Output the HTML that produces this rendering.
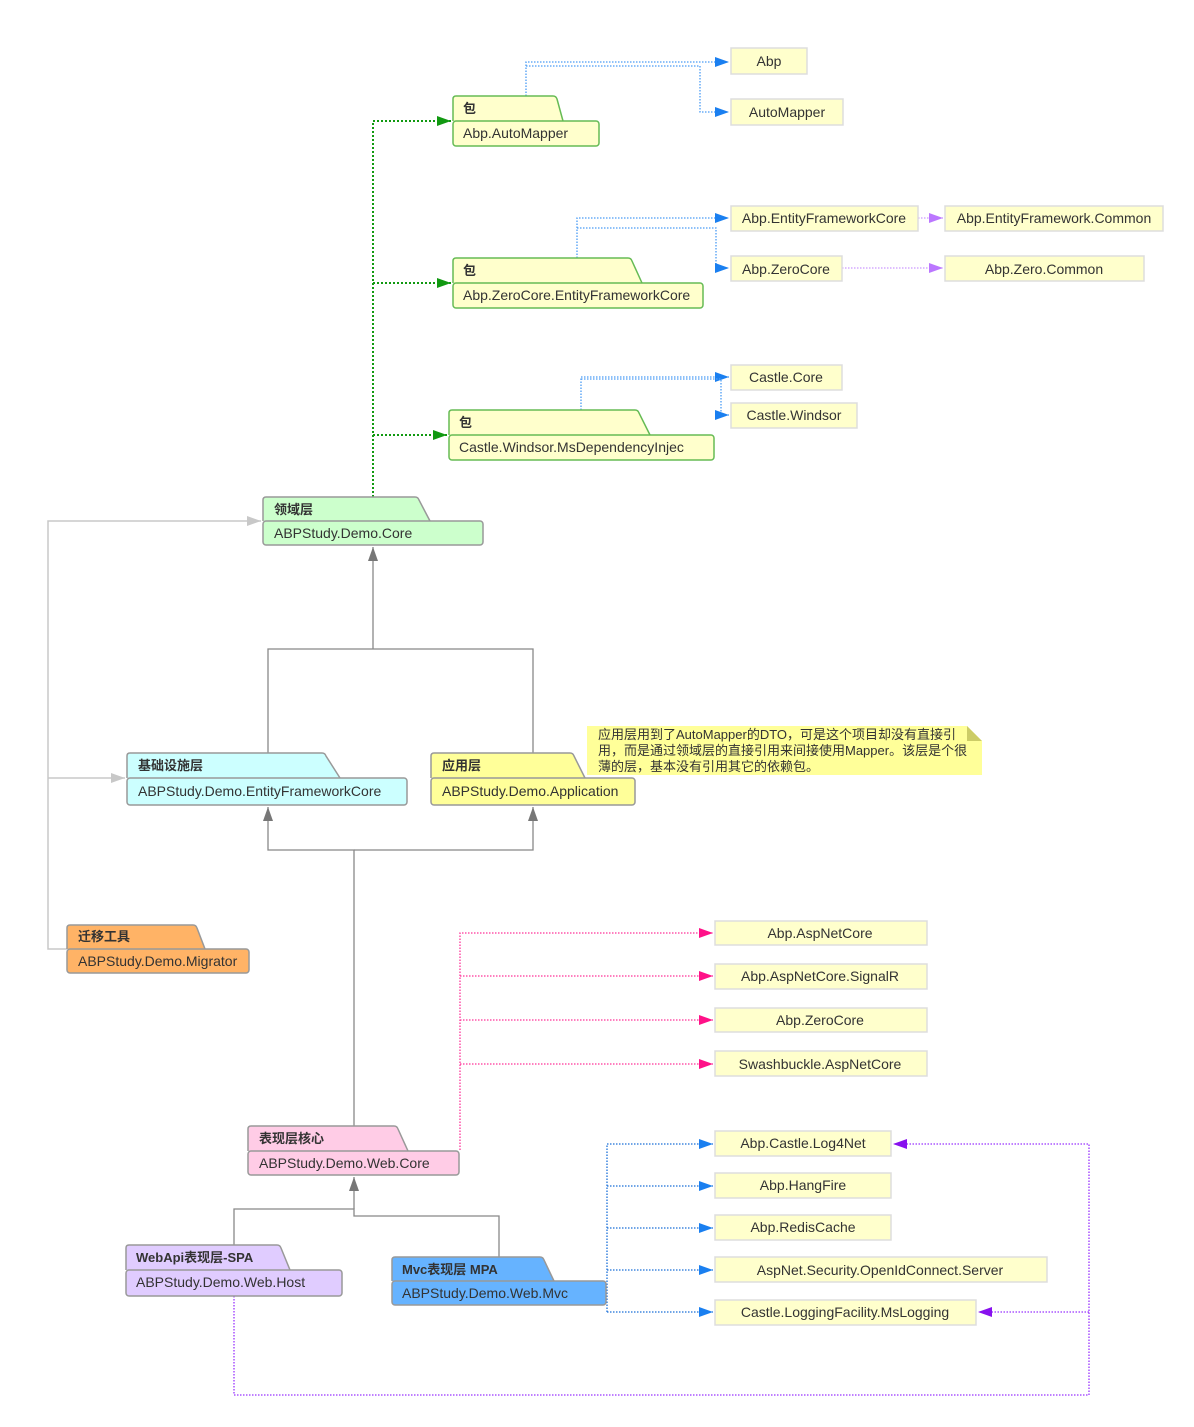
<!DOCTYPE html>
<html><head><meta charset="utf-8"><style>
html,body{margin:0;padding:0;background:#fff;}
svg{display:block;}
text{font-family:"Liberation Sans","Noto Sans CJK SC",sans-serif;font-size:14px;fill:#333;}
.b{font-weight:bold;font-size:13px;}
.n{font-size:13px;}
</style></head><body>
<svg width="1194" height="1427" viewBox="0 0 1194 1427" xmlns="http://www.w3.org/2000/svg">
<defs>
<marker id="ag" markerWidth="14" markerHeight="10" refX="14" refY="5" orient="auto" markerUnits="userSpaceOnUse"><path d="M0,0 L14,5 L0,10 z" fill="#119911"/></marker>
<marker id="ab" markerWidth="14" markerHeight="10" refX="14" refY="5" orient="auto" markerUnits="userSpaceOnUse"><path d="M0,0 L14,5 L0,10 z" fill="#1a7ff0"/></marker>
<marker id="ap" markerWidth="14" markerHeight="10" refX="14" refY="5" orient="auto" markerUnits="userSpaceOnUse"><path d="M0,0 L14,5 L0,10 z" fill="#bb77ff"/></marker>
<marker id="ak" markerWidth="14" markerHeight="10" refX="14" refY="5" orient="auto" markerUnits="userSpaceOnUse"><path d="M0,0 L14,5 L0,10 z" fill="#ff1188"/></marker>
<marker id="av" markerWidth="14" markerHeight="10" refX="14" refY="5" orient="auto" markerUnits="userSpaceOnUse"><path d="M0,0 L14,5 L0,10 z" fill="#8811ee"/></marker>
<marker id="ad" markerWidth="14" markerHeight="10" refX="14" refY="5" orient="auto" markerUnits="userSpaceOnUse"><path d="M0,0 L14,5 L0,10 z" fill="#777"/></marker>
<marker id="al" markerWidth="14" markerHeight="10" refX="14" refY="5" orient="auto" markerUnits="userSpaceOnUse"><path d="M0,0 L14,5 L0,10 z" fill="#c8c8c8"/></marker>
</defs>

<g fill="none">
<path d="M373,497 V121 H451" stroke="#119911" stroke-width="2" stroke-dasharray="2,2" marker-end="url(#ag)"/>
<path d="M373,283 H451" stroke="#119911" stroke-width="2" stroke-dasharray="2,2" marker-end="url(#ag)"/>
<path d="M373,435 H447" stroke="#119911" stroke-width="2" stroke-dasharray="2,2" marker-end="url(#ag)"/>
<g stroke="#4a9cf5" stroke-width="1.3" stroke-dasharray="1.5,1.5">
<path d="M526,96 V62 H729" marker-end="url(#ab)"/>
<path d="M526,66 H700 V112 H729" marker-end="url(#ab)"/>
<path d="M577,258 V218 H729" marker-end="url(#ab)"/>
<path d="M577,228 H716 V268 H729" marker-end="url(#ab)"/>
<path d="M581,410 V377 H729" marker-end="url(#ab)"/>
<path d="M581,379 H721 V415 H729" marker-end="url(#ab)"/>
</g>
<g stroke="#cc99ff" stroke-width="1.3" stroke-dasharray="1.5,1.5">
<path d="M918,218 H943" marker-end="url(#ap)"/>
<path d="M842,268 H943" marker-end="url(#ap)"/>
</g>
<g stroke="#888" stroke-width="1.3">
<path d="M373,649 V547" marker-end="url(#ad)"/>
<path d="M268,753 V649 H533 V753"/>
<path d="M354,1126 V850 H268 V807" marker-end="url(#ad)"/>
<path d="M354,850 H533 V807" marker-end="url(#ad)"/>
<path d="M354,1209 V1177" marker-end="url(#ad)"/>
<path d="M234,1245 V1209 H354 V1216 H499 V1257"/>
</g>
<g stroke="#c8c8c8" stroke-width="1.5">
<path d="M67,949 H48 V521 H261" marker-end="url(#al)"/>
<path d="M48,778 H125" marker-end="url(#al)"/>
</g>
<g stroke="#ff3399" stroke-width="1.3" stroke-dasharray="1.5,1.5">
<path d="M460,1150 V933 H713" marker-end="url(#ak)"/>
<path d="M460,976 H713" marker-end="url(#ak)"/>
<path d="M460,1020 H713" marker-end="url(#ak)"/>
<path d="M460,1064 H713" marker-end="url(#ak)"/>
</g>
<g stroke="#1a6fd8" stroke-width="1.3" stroke-dasharray="1.5,1.5">
<path d="M607,1312 V1144 H713" marker-end="url(#ab)"/>
<path d="M607,1186 H713" marker-end="url(#ab)"/>
<path d="M607,1228 H713" marker-end="url(#ab)"/>
<path d="M607,1270 H713" marker-end="url(#ab)"/>
<path d="M607,1312 H713" marker-end="url(#ab)"/>
</g>
<g stroke="#9933ff" stroke-width="1.3" stroke-dasharray="1.5,1.5">
<path d="M234,1296 V1395 H1089 V1144 H893" marker-end="url(#av)"/>
<path d="M1089,1312 H978" marker-end="url(#av)"/>
</g>
</g>

<g fill="#ffffcc" stroke="#dddddd" stroke-width="1.5">
<rect x="731" y="48" width="76" height="26"/>
<rect x="731" y="99" width="112" height="26"/>
<rect x="731" y="206" width="187" height="25"/>
<rect x="945" y="206" width="218" height="25"/>
<rect x="731" y="256" width="111" height="25"/>
<rect x="945" y="256" width="199" height="25"/>
<rect x="731" y="365" width="111" height="25"/>
<rect x="731" y="403" width="126" height="25"/>
<rect x="715" y="921" width="212" height="24"/>
<rect x="715" y="964" width="212" height="25"/>
<rect x="715" y="1008" width="212" height="24"/>
<rect x="715" y="1051" width="212" height="25"/>
<rect x="715" y="1131" width="176" height="25"/>
<rect x="715" y="1173" width="176" height="25"/>
<rect x="715" y="1215" width="176" height="25"/>
<rect x="715" y="1257" width="332" height="25"/>
<rect x="715" y="1300" width="261" height="25"/>
</g>
<g text-anchor="middle">
<text x="769" y="66">Abp</text>
<text x="787" y="117">AutoMapper</text>
<text x="824" y="223">Abp.EntityFrameworkCore</text>
<text x="1054" y="223">Abp.EntityFramework.Common</text>
<text x="786" y="274">Abp.ZeroCore</text>
<text x="1044" y="274">Abp.Zero.Common</text>
<text x="786" y="382">Castle.Core</text>
<text x="794" y="420">Castle.Windsor</text>
<text x="820" y="938">Abp.AspNetCore</text>
<text x="820" y="981">Abp.AspNetCore.SignalR</text>
<text x="820" y="1025">Abp.ZeroCore</text>
<text x="820" y="1069">Swashbuckle.AspNetCore</text>
<text x="803" y="1148">Abp.Castle.Log4Net</text>
<text x="803" y="1190">Abp.HangFire</text>
<text x="803" y="1232">Abp.RedisCache</text>
<text x="880" y="1275">AspNet.Security.OpenIdConnect.Server</text>
<text x="845" y="1317">Castle.LoggingFacility.MsLogging</text>
</g>

<g stroke-width="1.5">
<g fill="#ffffcc" stroke="#66bb55">
<path d="M453,121 V99 Q453,96 456,96 H553 Q556,96 557,99 L563,121"/><rect x="453" y="121" width="146" height="25" rx="3"/>
<path d="M453,283 V261 Q453,258 456,258 H628 Q631,258 632,261 L642,283"/><rect x="453" y="283" width="250" height="25" rx="3"/>
<path d="M449,435 V413 Q449,410 452,410 H635 Q638,410 639,413 L650,435"/><rect x="449" y="435" width="265" height="25" rx="3"/>
</g>
<g stroke="#999">
<path fill="#ccffcc" d="M263,521 V500 Q263,497 266,497 H415 Q418,497 419,500 L430,521"/><rect fill="#ccffcc" x="263" y="521" width="220" height="24" rx="3"/>
<path fill="#ccffff" d="M127,778 V756 Q127,753 130,753 H322 Q325,753 326,756 L340,778"/><rect fill="#ccffff" x="127" y="778" width="280" height="27" rx="3"/>
<path fill="#ffff99" d="M431,778 V756 Q431,753 434,753 H570 Q573,753 574,756 L585,778"/><rect fill="#ffff99" x="431" y="778" width="204" height="27" rx="3"/>
<path fill="#ffb366" d="M67,949 V928 Q67,925 70,925 H193 Q196,925 197,928 L205,949"/><rect fill="#ffb366" x="67" y="949" width="182" height="24" rx="3"/>
<path fill="#ffcce6" d="M248,1151 V1129 Q248,1126 251,1126 H394 Q397,1126 398,1129 L408,1151"/><rect fill="#ffcce6" x="248" y="1151" width="211" height="24" rx="3"/>
<path fill="#e0ccff" d="M126,1270 V1248 Q126,1245 129,1245 H277 Q280,1245 281,1248 L290,1270"/><rect fill="#e0ccff" x="126" y="1270" width="216" height="26" rx="3"/>
<path fill="#66b3ff" d="M392,1281 V1260 Q392,1257 395,1257 H540 Q543,1257 544,1260 L554,1281"/><rect fill="#66b3ff" x="392" y="1281" width="214" height="24" rx="3"/>
</g>
</g>
<g>
<text class="b" x="463" y="113">包</text><text x="463" y="138">Abp.AutoMapper</text>
<text class="b" x="463" y="275">包</text><text x="463" y="300">Abp.ZeroCore.EntityFrameworkCore</text>
<text class="b" x="459" y="427">包</text><text x="459" y="452">Castle.Windsor.MsDependencyInjec</text>
<text class="b" x="274" y="514">领域层</text><text x="274" y="538">ABPStudy.Demo.Core</text>
<text class="b" x="138" y="770">基础设施层</text><text x="138" y="796">ABPStudy.Demo.EntityFrameworkCore</text>
<text class="b" x="442" y="770">应用层</text><text x="442" y="796">ABPStudy.Demo.Application</text>
<text class="b" x="78" y="941">迁移工具</text><text x="78" y="966">ABPStudy.Demo.Migrator</text>
<text class="b" x="259" y="1143">表现层核心</text><text x="259" y="1168">ABPStudy.Demo.Web.Core</text>
<text class="b" x="136" y="1262">WebApi表现层-SPA</text><text x="136" y="1287">ABPStudy.Demo.Web.Host</text>
<text class="b" x="402" y="1274">Mvc表现层 MPA</text><text x="402" y="1298">ABPStudy.Demo.Web.Mvc</text>
</g>

<path d="M587,726 H967 L982,741 V775 H587 Z" fill="#ffff99"/>
<path d="M967,726 L982,741 H967 Z" fill="#cccc66"/>
<text class="n" x="598" y="739">应用层用到了AutoMapper的DTO，可是这个项目却没有直接引</text>
<text class="n" x="598" y="755">用，而是通过领域层的直接引用来间接使用Mapper。该层是个很</text>
<text class="n" x="598" y="771">薄的层，基本没有引用其它的依赖包。</text>
</svg>
</body></html>
